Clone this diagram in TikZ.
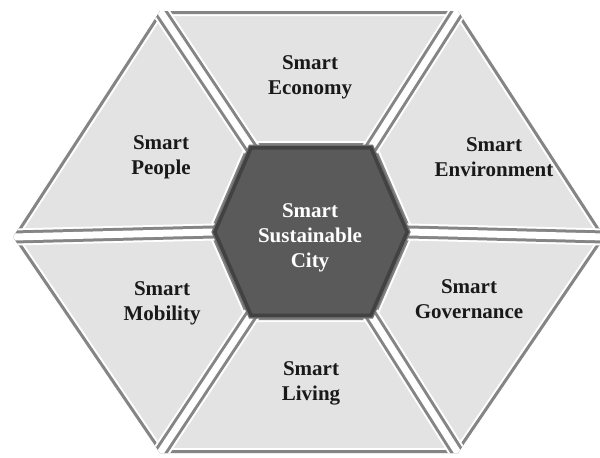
\documentclass[tikz,border=0pt]{standalone}
\usepackage{fontspec}
\setmainfont{Liberation Serif}
\definecolor{pieceC}{HTML}{E3E3E3}
\definecolor{edgeC}{HTML}{858585}
\definecolor{coreC}{HTML}{5A5A5A}
\definecolor{coreEdge}{HTML}{424242}
\definecolor{coreRim}{HTML}{707070}
\newcommand\mypiece[4]{%
  \begin{scope}
    \clip (#1)--(#2)--(#3)--(#4)--cycle;
    \fill[pieceC] (#1)--(#2)--(#3)--(#4)--cycle;
    \draw[white, line width=10] (#1)--(#2)--(#3)--(#4)--cycle;
    \draw[edgeC, line width=6] (#1)--(#2)--(#3)--(#4)--cycle;
  \end{scope}}
\begin{document}
\begin{tikzpicture}[x=1pt,y=-1pt,
  lbl/.style={font=\bfseries\fontsize{21}{25}\selectfont, align=center, text=black!90},
  corelbl/.style={lbl, text=white}]
\useasboundingbox (0,0) rectangle (600,458);
% outer hexagon
\coordinate (O1) at (160,11);
\coordinate (O2) at (458,11);
\coordinate (O3) at (605,237);
\coordinate (O4) at (458,453);
\coordinate (O5) at (160,453);
\coordinate (O6) at (13,237);
% inner hexagon
\coordinate (I1) at (250,146);
\coordinate (I2) at (372,146);
\coordinate (I3) at (409,232);
\coordinate (I4) at (372,317);
\coordinate (I5) at (250,317);
\coordinate (I6) at (213,232);
% pieces
\mypiece{O1}{O2}{I2}{I1}
\mypiece{O2}{O3}{I3}{I2}
\mypiece{O3}{O4}{I4}{I3}
\mypiece{O4}{O5}{I5}{I4}
\mypiece{O5}{O6}{I6}{I5}
\mypiece{O6}{O1}{I1}{I6}
% separators
\begin{scope}
  \clip (O1)--(O2)--(O3)--(O4)--(O5)--(O6)--cycle;
  \foreach \k in {1,...,6} {\draw[white, line width=17, shorten <=-12pt, shorten >=-12pt] (I\k)--(O\k);}
  \foreach \k in {1,...,6} {\draw[edgeC, line width=13, shorten <=-12pt, shorten >=-12pt] (I\k)--(O\k);}
  \foreach \k in {1,...,6} {\draw[white, line width=7, shorten <=-12pt, shorten >=-12pt] (I\k)--(O\k);}
\end{scope}
% core
\draw[coreRim, line width=3] (I1)--(I2)--(I3)--(I4)--(I5)--(I6)--cycle;
\begin{scope}
  \clip (I1)--(I2)--(I3)--(I4)--(I5)--(I6)--cycle;
  \fill[coreC] (I1)--(I2)--(I3)--(I4)--(I5)--(I6)--cycle;
  \draw[coreEdge, line width=7] (I1)--(I2)--(I3)--(I4)--(I5)--(I6)--cycle;
\end{scope}
% labels
\node[corelbl] (core) at (310,238) {Smart\\Sustainable\\City};
\node[lbl] (economy) at (310,77) {Smart\\Economy};
\node[lbl] (people) at (161,157) {Smart\\People};
\node[lbl] (environment) at (494,157) {Smart\\Environment};
\node[lbl] (mobility) at (162,303) {Smart\\Mobility};
\node[lbl] (governance) at (469,299) {Smart\\Governance};
\node[lbl] (living) at (311,383) {Smart\\Living};
\end{tikzpicture}
\end{document}
